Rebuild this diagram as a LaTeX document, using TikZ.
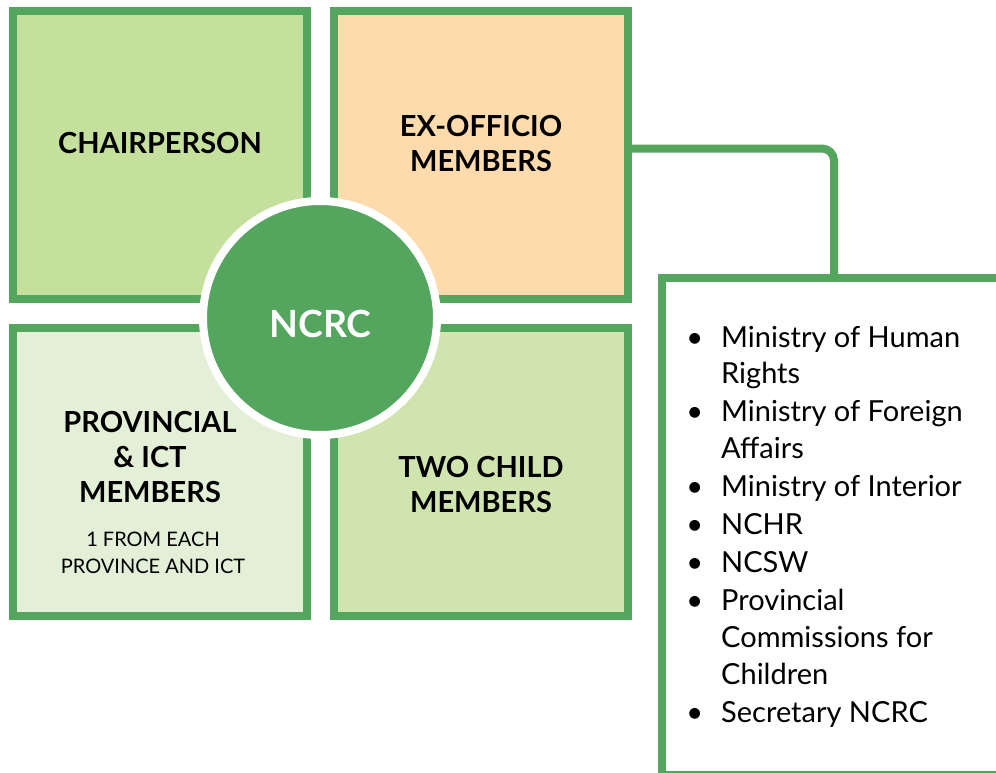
\documentclass[tikz,border=0pt]{standalone}
\usepackage{fontspec}
\setmainfont{Lato}
\usepackage{enumitem}
\definecolor{ncrcgreen}{RGB}{84,165,94}
\definecolor{chairfill}{RGB}{197,224,156}
\definecolor{exofill}{RGB}{253,219,172}
\definecolor{provfill}{RGB}{227,239,214}
\definecolor{childfill}{RGB}{207,228,175}
\begin{document}
\begin{tikzpicture}[
    x=1pt, y=-1pt,
    panel/.style={draw=ncrcgreen, line width=8pt, minimum width=294pt, minimum height=288pt, inner sep=0pt},
    heading/.style={align=center, font=\fontsize{29}{35}\selectfont\bfseries},
    link/.style={draw=ncrcgreen, line width=8pt, rounded corners=12pt}
    ]
	\useasboundingbox (0,0) rectangle (996,772);
	% the four panels
	\node [panel, fill=chairfill] (chair) at (160,155) {};
	\node [panel, fill=exofill] (exofficio) at (481,155) {};
	\node [panel, fill=provfill] (provincial) at (160,472) {};
	\node [panel, fill=childfill] (child) at (481,472) {};
	\node [heading] (chairtext) at (160,143.5) {CHAIRPERSON};
	\node [heading] (exotext) at (481,143.5) {EX-OFFICIO\\MEMBERS};
	\node [heading] (provtext) at (150,457.5) {PROVINCIAL\\\& ICT\\MEMBERS};
	\node [align=center, font=\fontsize{20}{27}\selectfont] (provnote) at (153,552.5) {1 FROM EACH\\PROVINCE AND ICT};
	\node [heading] (childtext) at (481,485) {TWO CHILD\\MEMBERS};
	% hub
	\node [circle, fill=ncrcgreen, draw=white, line width=8pt, minimum size=234pt, inner sep=0pt] (ncrc) at (320,318) {};
	\node [text=white, font=\fontsize{37.5}{40}\selectfont\bfseries] (ncrctext) at (320.5,323.5) {NCRC};
	% ex-officio list
	\node [draw=ncrcgreen, line width=8pt, outer sep=0pt, inner sep=0pt, anchor=north west,
		minimum width=344pt, minimum height=497pt] (members) at (662,278) {};
	\draw [link] ([yshift=6.5pt]exofficio.east) -| (members.north);
	\node [anchor=base west, inner sep=0pt, font=\fontsize{29}{36.8}\selectfont] (memberlist) at (689,347) {%
		\begin{minipage}[t]{300pt}
		\begin{itemize}[leftmargin=32pt, labelsep=18pt, labelwidth=14pt, itemsep=1.2pt, parsep=0pt, topsep=0pt, partopsep=0pt]
			\item Ministry of Human\newline Rights
			\item Ministry of Foreign\newline Affairs
			\item Ministry of Interior
			\item NCHR
			\item NCSW
			\item Provincial\newline Commissions for\newline Children
			\item Secretary NCRC
		\end{itemize}
		\end{minipage}};
\end{tikzpicture}
\end{document}
